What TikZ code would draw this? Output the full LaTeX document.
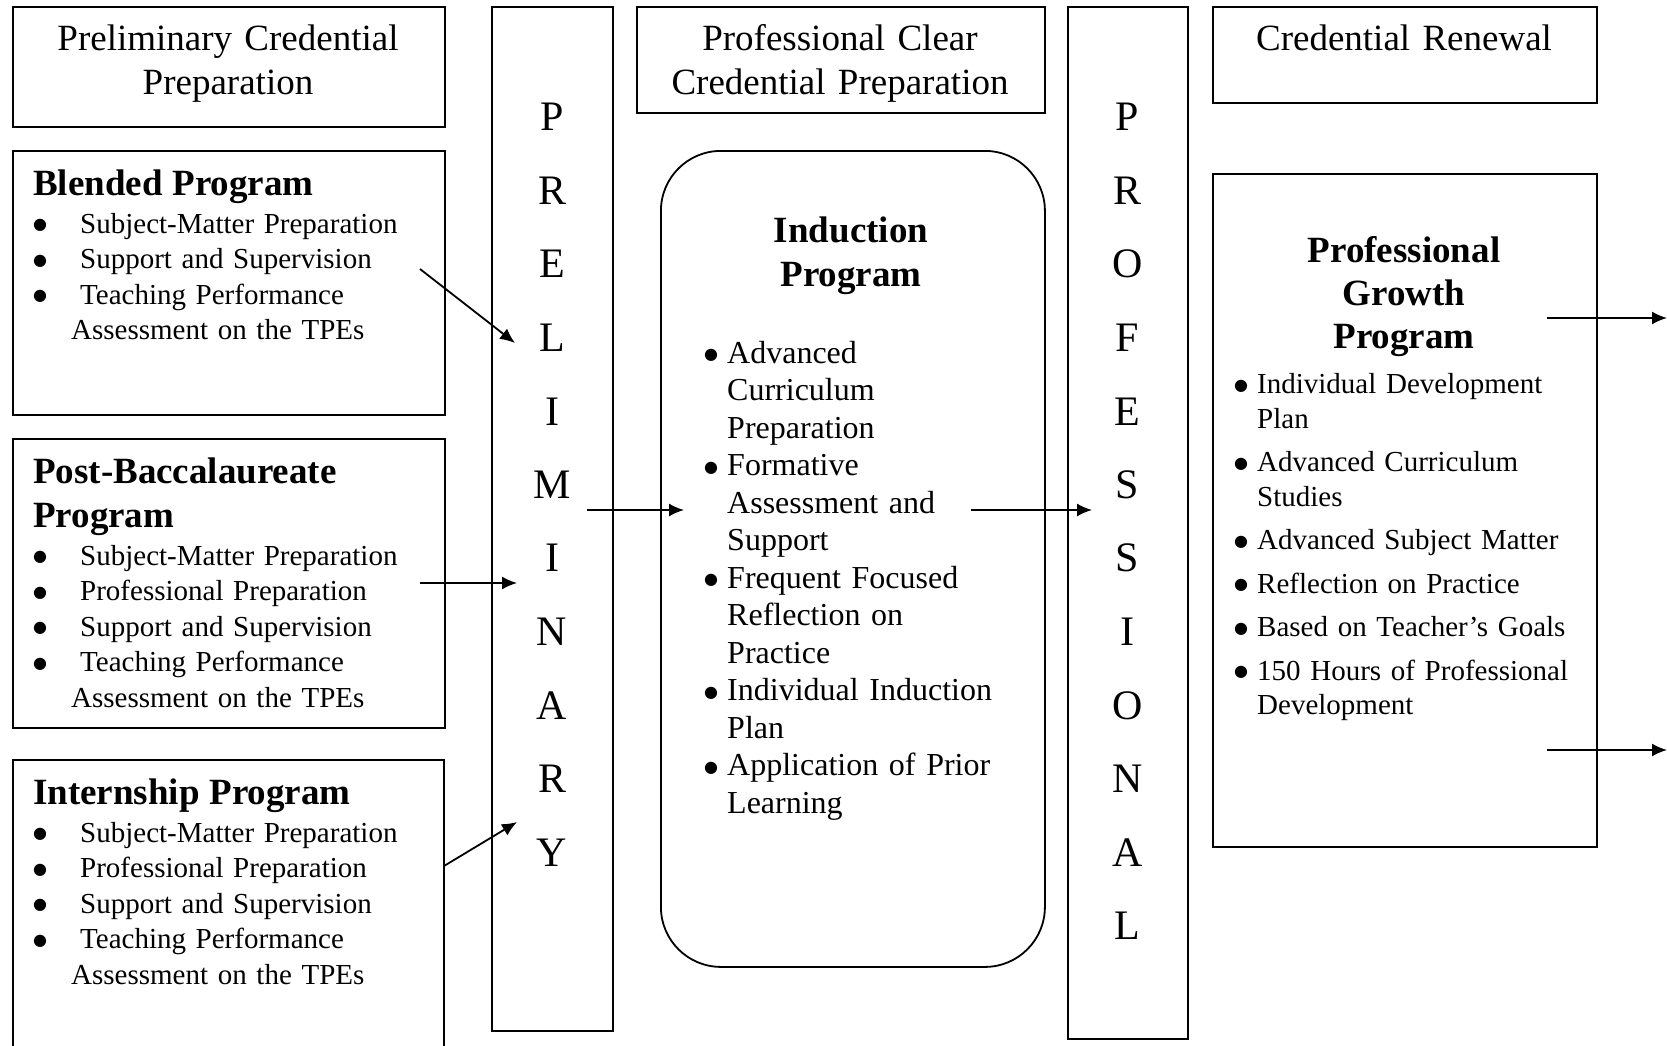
\documentclass[tikz,border=0pt]{standalone}
\usepackage{fontspec}
\setmainfont{Liberation Serif}
\newfontfamily\dotfont{DejaVu Sans}
\usetikzlibrary{arrows.meta,positioning}
\tikzset{
        box/.style = {draw, rectangle, line width=1.8pt, anchor=north west, inner sep=0pt},
        headtext/.style = {anchor=base, text width=420pt, align=center, inner sep=0pt,
            font=\fontsize{37}{44}\selectfont},
        colword/.style = {anchor=base, text width=80pt, align=center, inner sep=0pt,
            font=\fontsize{42}{73.5}\selectfont},
        titletext/.style = {anchor=base, text width=340pt, align=center, inner sep=0pt,
            font=\fontsize{37}{44}\selectfont\bfseries},
        listtext/.style = {anchor=base west, text width=405pt, align=left, inner sep=0pt,
            font=\fontsize{29}{35.5}\selectfont},
        arrow/.style = {draw, line width=1.8pt, -{Latex[length=15pt,width=13pt]}},
    }
\newcommand{\progtitle}{\fontsize{37}{35.5}\selectfont\bfseries}
\newcommand{\bigdot}{\raisebox{3.5pt}{\dotfont\fontsize{16}{16}\selectfont ●}}
\newcommand{\litem}[1]{\makebox[47pt][l]{\bigdot}#1}
\newcommand{\lmore}[1]{\hspace*{38pt}#1}
\newcommand{\iitem}[1]{\makebox[22pt][l]{\hspace*{-1pt}\bigdot}#1}
\newcommand{\imore}[1]{\hspace*{22pt}#1}
\begin{document}
\begin{tikzpicture}[x=1pt, y=-1pt]
		\useasboundingbox (0,0) rectangle (1667,1046);
		\clip (0,0) rectangle (1667,1046);
		% frames
		\node[box, minimum width=432pt, minimum height=120pt]  (prehead)   at (12,6)     {};
		\node[box, minimum width=121pt, minimum height=1024pt] (precol)    at (491,6)    {};
		\node[box, minimum width=408pt, minimum height=106pt]  (clearhead) at (636,6)    {};
		\node[box, minimum width=120pt, minimum height=1032pt] (procol)    at (1067,6)   {};
		\node[box, minimum width=384pt, minimum height=96pt]   (renewhead) at (1212,6)   {};
		\node[box, minimum width=432pt, minimum height=264pt]  (blended)   at (12,150)   {};
		\node[box, minimum width=432pt, minimum height=289pt]  (postbacc)  at (12,438)   {};
		\node[box, minimum width=431pt, minimum height=320pt]  (intern)    at (12,759)   {};
		\node[box, rounded corners=60pt, minimum width=384pt, minimum height=816pt] (induct) at (660,150) {};
		\node[box, minimum width=384pt, minimum height=673pt]  (growth)    at (1212,173) {};
		% headings
		\node[headtext] (pretext)   at (228,51)  {Preliminary Credential\\Preparation};
		\node[headtext] (cleartext) at (840,51)  {Professional Clear\\Credential Preparation};
		\node[headtext] (renewtext) at (1404,51) {Credential Renewal};
		\node[colword]  (preword)   at (552,131)    {P\\R\\E\\L\\I\\M\\I\\N\\A\\R\\Y};
		\node[colword]  (proword)   at (1127.5,131) {P\\R\\O\\F\\E\\S\\S\\I\\O\\N\\A\\L};
		% programs
		\node[listtext] (blendtext) at (33,195) {{\progtitle Blended Program}\\[2.5pt]
			\litem{Subject-Matter Preparation}\\ \litem{Support and Supervision}\\
			\litem{Teaching Performance}\\ \lmore{Assessment on the TPEs}};
		\node[listtext] (posttext) at (33,483) {{\progtitle Post-Baccalaureate}\\[8.5pt]
			{\progtitle Program}\\[2.5pt]
			\litem{Subject-Matter Preparation}\\ \litem{Professional Preparation}\\
			\litem{Support and Supervision}\\ \litem{Teaching Performance}\\
			\lmore{Assessment on the TPEs}};
		\node[listtext] (interntext) at (33,804) {{\progtitle Internship Program}\\[2.5pt]
			\litem{Subject-Matter Preparation}\\ \litem{Professional Preparation}\\
			\litem{Support and Supervision}\\ \litem{Teaching Performance}\\
			\lmore{Assessment on the TPEs}};
		\node[titletext] (inducttitle) at (851,242) {Induction\\Program};
		\node[listtext, text width=330pt, font=\fontsize{32}{37.5}\selectfont] (inductitems) at (705,363) {
			\iitem{Advanced}\\ \imore{Curriculum}\\ \imore{Preparation}\\
			\iitem{Formative}\\ \imore{Assessment and}\\ \imore{Support}\\
			\iitem{Frequent Focused}\\ \imore{Reflection on}\\ \imore{Practice}\\
			\iitem{Individual Induction}\\ \imore{Plan}\\
			\iitem{Application of Prior}\\ \imore{Learning}};
		\node[titletext, font=\fontsize{37}{43}\selectfont\bfseries] (growthtitle) at (1404,262) {Professional\\Growth\\Program};
		\node[listtext, text width=350pt, font=\fontsize{29}{34.5}\selectfont] (growthitems) at (1235,393.5) {
			\iitem{Individual Development}\\ \imore{Plan}\\[9pt]
			\iitem{Advanced Curriculum}\\ \imore{Studies}\\[9pt]
			\iitem{Advanced Subject Matter}\\[9pt]
			\iitem{Reflection on Practice}\\[9pt]
			\iitem{Based on Teacher's Goals}\\[9pt]
			\iitem{150 Hours of Professional}\\ \imore{Development}};
		% arrows
		\coordinate (blendout)   at (420,269);
		\coordinate (blendin)    at (515,343);
		\coordinate (postout)    at (420,583);
		\coordinate (postin)     at (517,583);
		\coordinate (internout)  at (444,866);
		\coordinate (internin)   at (517,822);
		\coordinate (preout)     at (587,510);
		\coordinate (inductin)   at (684,510);
		\coordinate (inductout)  at (971,510);
		\coordinate (proin)      at (1092,510);
		\coordinate (growthout)  at (1547,318);
		\coordinate (growthend)  at (1667,318);
		\coordinate (growthlow)  at (1547,750);
		\coordinate (growthexit) at (1667,750);
		\path[arrow] (blendout) -- (blendin);
		\path[arrow] (postout) -- (postin);
		\path[arrow] (internout) -- (internin);
		\path[arrow] (preout) -- (inductin);
		\path[arrow] (inductout) -- (proin);
		\path[arrow] (growthout) -- (growthend);
		\path[arrow] (growthlow) -- (growthexit);
\end{tikzpicture}
\end{document}
